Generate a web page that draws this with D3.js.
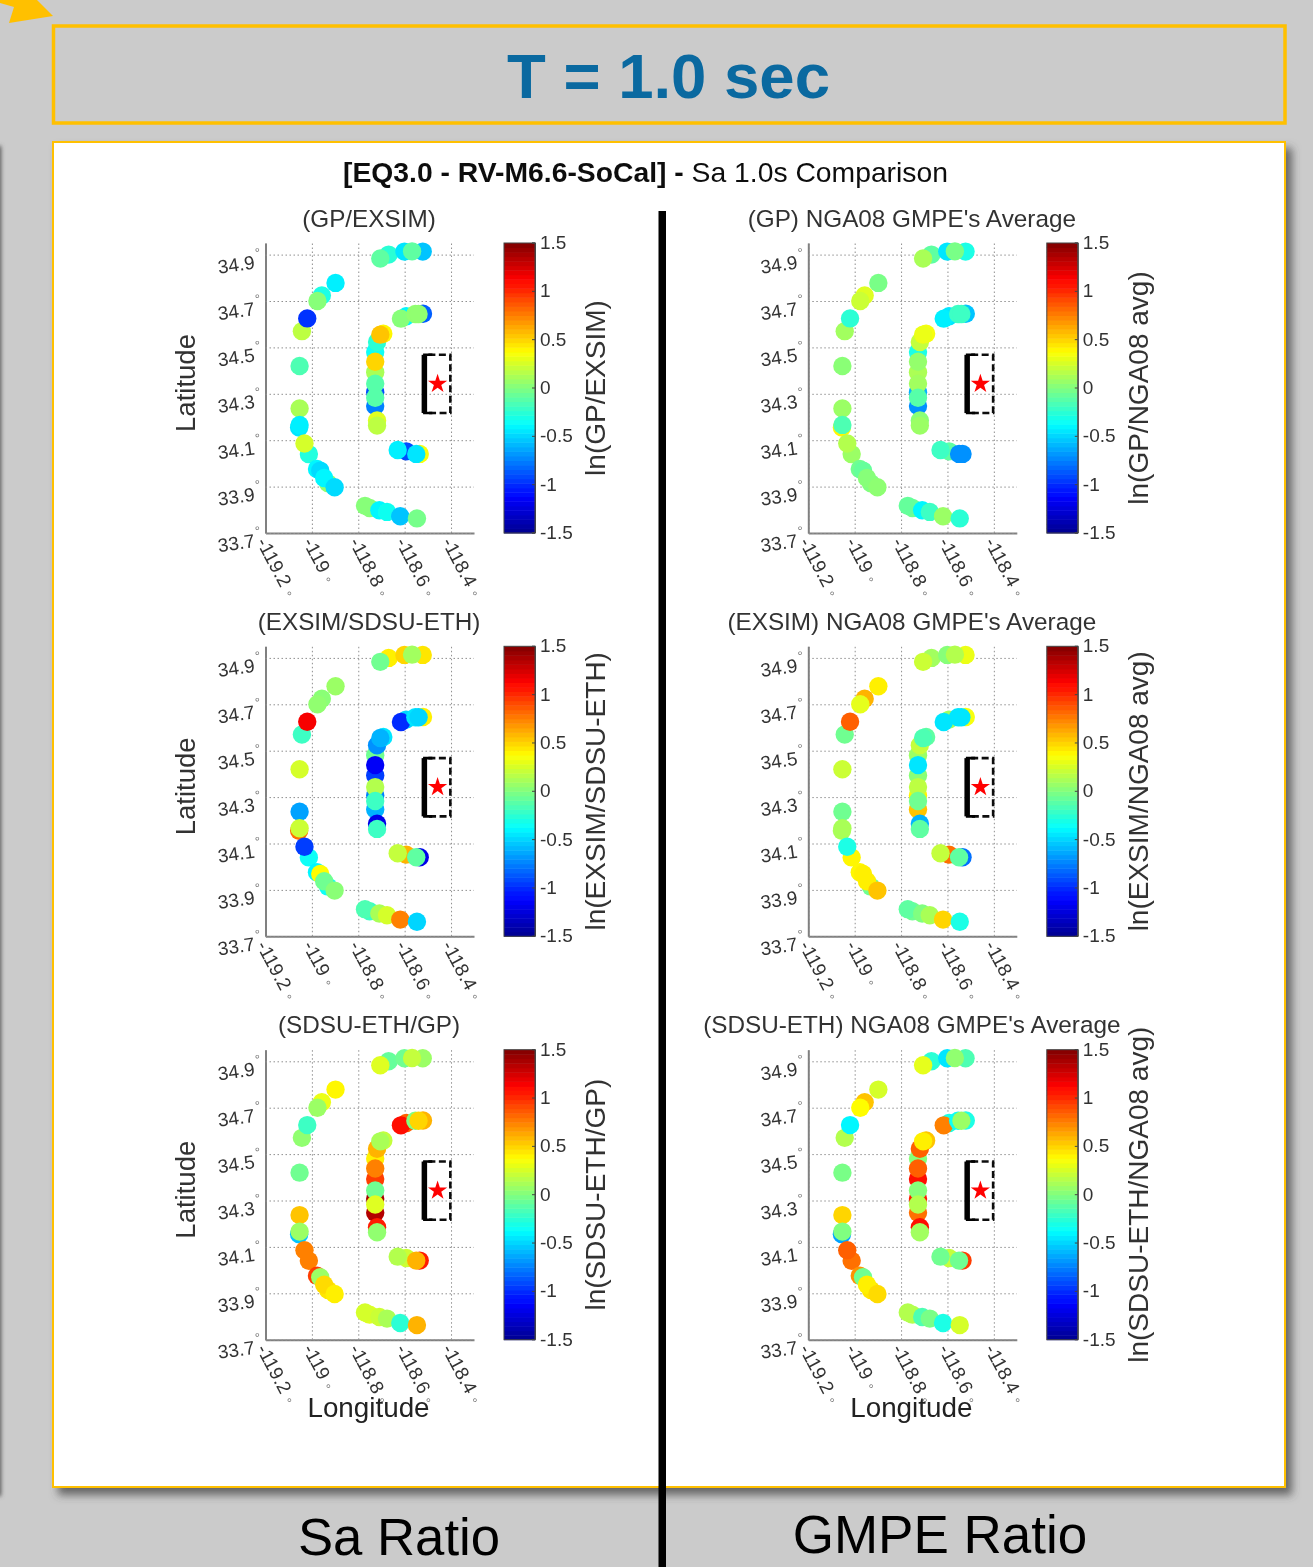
<!DOCTYPE html>
<html>
<head>
<meta charset="utf-8">
<script src="https://cdn.jsdelivr.net/npm/d3@7"></script>
<style>
  html, body { margin: 0; padding: 0; background: #cbcbcb; }
  svg { display: block; }
  text { font-family: "Liberation Sans", Arial, sans-serif; }
  .tick text { fill: #333; font-size: 19px; }
  .deg { fill: #777; font-size: 13px; }
  .grid .tick line { stroke: #8f8f8f; stroke-dasharray: 1.5 2.5; stroke-width: 1; }
  .grid .domain { stroke: #808080; stroke-width: 2; }
</style>
</head>
<body>
<script>
// station locations, in drawing order (later ones sit on top)
var stationLon = [-118.898,-118.957,-118.976,-119.043,-119.020,-119.053,-119.053,-119.055,-119.053,-119.013,-119.032,-118.978,-118.964,-118.930,-118.947,-118.902,
  -118.751,-118.771,-118.709,-118.676,-118.619,-118.547,
  -118.669,-118.705,-118.601,-118.522,-118.568,
  -118.593,-118.616,-118.521,-118.554,-118.540,
  -118.727,-118.727,-118.727,-118.727,-118.727,-118.727,-118.727,-118.719,-118.692,-118.705,-118.719,-118.719,
  -118.535,-118.593,-118.550,-118.630];
var stationLat = [34.778,34.724,34.700,34.570,34.625,34.420,34.237,34.155,34.166,34.040,34.086,33.976,33.969,33.914,33.937,33.897,
  33.808,33.817,33.798,33.791,33.772,33.763,
  34.900,34.883,34.913,34.913,34.914,
  34.634,34.624,34.645,34.644,34.644,
  34.247,34.307,34.393,34.343,34.283,34.480,34.438,34.523,34.559,34.555,34.185,34.163,
  34.041,34.052,34.041,34.058];

// ln ratio at each station, one list per panel
var gpExsim = [-.42,-.3,.02,.18,-.98,-.15,.12,-.45,-.42,-.28,.25,-.4,-.48,.05,-.4,-.48,
  .02,.02,-.4,-.33,-.55,-.03,
  -.25,-.1,-.45,-.55,-.1,
  -.4,.02,-.85,.05,.05,
  -.75,-.9,.12,-.12,-.12,-.35,.5,-.25,.4,.55,.28,.18,
  .35,-.9,-.45,-.42];
var exsimSdsu = [.08,.03,.05,-.2,1.15,.25,-.65,.8,.22,-.35,-.95,-.4,.38,-.35,-.05,.03,
  -.2,-.15,.12,.25,.75,-.5,
  .42,-.05,.5,.45,.1,
  -.5,-1.0,.42,-.45,-.5,
  -.6,-.75,-.95,.15,-.2,-.05,-1.15,-.7,-.45,-.6,-1.2,-.2,
  -1.2,.6,-.1,.2];
var sdsuGp = [.4,.32,.08,.05,-.2,-.05,.55,-.55,.08,.75,.75,.95,.08,.45,.48,.42,
  .28,.25,.22,.12,-.25,.6,
  -.08,.28,-.05,.08,.2,
  .85,1.1,.6,0,.5,
  1.35,1.4,.95,-.05,.28,.42,.75,.6,.2,.12,1.05,.05,
  1.05,.22,.6,.15];
var gpNga = [-.02,.28,.22,.1,-.25,.03,.08,.4,-.15,.08,.15,-.05,-.08,0,.02,.04,
  -.05,-.08,-.4,-.2,.08,-.25,
  -.1,.12,-.45,-.3,-.02,
  -.45,-.42,-.55,-.2,-.2,
  -.7,-.6,.13,.1,-.12,-.3,.06,.2,.35,.32,.03,.08,
  -.7,-.1,-.7,-.2];
var exsimNga = [.42,.6,.3,-.05,.85,.22,-.05,.12,.12,.4,-.3,.4,.42,-.05,.42,.55,
  -.05,-.1,0,.12,.5,-.3,
  .1,.22,.02,.32,.15,
  .1,-.45,.35,-.45,-.45,
  .55,.4,.03,.18,-.05,.08,-.45,.2,-.1,-.15,-.6,-.1,
  -.8,.8,-.1,.2];
var sdsuNga = [.25,.55,.38,.15,-.4,-.02,.5,-.65,0,.8,.85,.7,-.05,.45,.42,.48,
  .15,.15,-.15,-.02,-.3,.25,
  -.25,.3,-.45,-.15,.05,
  -.3,.75,-.3,-.35,.08,
  .8,1.05,1.1,.02,.15,.02,.85,.85,.55,.42,1.1,.1,
  .95,.2,-.05,-.05];

var lonTicks = [-119.2, -119, -118.8, -118.6, -118.4];
var latTicks = [33.7, 33.9, 34.1, 34.3, 34.5, 34.7, 34.9];
var barTicks = [-1.5, -1, -0.5, 0, 0.5, 1, 1.5];

// fault box and epicentre
var faultLon = [-118.515, -118.403];
var faultLat = [34.217, 34.468];
var epicentre = [-118.458, 34.343];

var panelTitles = ["(GP/EXSIM)", "(EXSIM/SDSU-ETH)", "(SDSU-ETH/GP)",
  "(GP) NGA08 GMPE's Average", "(EXSIM) NGA08 GMPE's Average", "(SDSU-ETH) NGA08 GMPE's Average"];
var barLabels = ["ln(GP/EXSIM)", "ln(EXSIM/SDSU-ETH)", "ln(SDSU-ETH/GP)",
  "ln(GP/NGA08 avg)", "ln(EXSIM/NGA08 avg)", "ln(SDSU-ETH/NGA08 avg)"];
var panelValues = [gpExsim, exsimSdsu, sdsuGp, gpNga, exsimNga, sdsuNga];

var W = 1313, H = 1567;
var colX = [265.5, 808.3], rowY = [243, 646.3, 1049.7];
var plotW = 208.5, plotH = 290;

var x = d3.scaleLinear().domain([-119.2, -118.301]).range([0, plotW]);
var y = d3.scaleLinear().domain([33.7, 34.95]).range([plotH, 0]);
var barY = d3.scaleLinear().domain([-1.5, 1.5]).range([plotH, 0]);

// matlab jet
var jet = d3.scaleLinear()
  .domain([-1.5, -1.125, -0.75, -0.375, 0, 0.375, 0.75, 1.125, 1.5])
  .range(["#00008f", "#0000ff", "#0080ff", "#00ffff", "#80ff80", "#ffff00", "#ff8000", "#ff0000", "#800000"])
  .clamp(true);

var svg = d3.select("body").append("svg").attr("width", W).attr("height", H);

var defs = svg.append("defs");
defs.append("filter").attr("id", "shadow").attr("x", "-5%").attr("y", "-5%").attr("width", "110%").attr("height", "110%")
  .append("feDropShadow").attr("dx", 6).attr("dy", 7).attr("stdDeviation", 4).attr("flood-color", "#444").attr("flood-opacity", 0.75);
defs.append("filter").attr("id", "soft").append("feGaussianBlur").attr("stdDeviation", 0.45);
defs.append("filter").attr("id", "blur3").attr("x", "-300%").attr("width", "700%").append("feGaussianBlur").attr("stdDeviation", 2);

svg.append("rect").attr("width", W).attr("height", H).attr("fill", "#cbcbcb");

// bits of the neighbouring slide content
svg.append("path").attr("d", "M0,0L37,0L53,16L9,23L14,7L0,3Z").attr("fill", "#ffc000");
svg.append("rect").attr("x", -6).attr("y", 146).attr("width", 7).attr("height", 1350).attr("fill", "#555").attr("filter", "url(#blur3)");

// heading box
svg.append("rect").attr("x", 53.5).attr("y", 26).attr("width", 1231.5).attr("height", 97)
  .attr("fill", "none").attr("stroke", "#ffc000").attr("stroke-width", 3.5);
svg.append("text").attr("x", 668.5).attr("y", 98).attr("text-anchor", "middle")
  .attr("font-size", 63.5).attr("font-weight", "bold").attr("fill", "#0a69a0").text("T = 1.0 sec");

// white sheet
svg.append("rect").attr("x", 53).attr("y", 142).attr("width", 1232).attr("height", 1345)
  .attr("fill", "#fff").attr("stroke", "#ffc000").attr("stroke-width", 2).attr("filter", "url(#shadow)");

var sheet = svg.append("g").attr("filter", "url(#soft)");

var head = sheet.append("text").attr("x", 645.5).attr("y", 182).attr("text-anchor", "middle").attr("font-size", 28.3).attr("fill", "#111");
head.append("tspan").attr("font-weight", "bold").text("[EQ3.0 - RV-M6.6-SoCal] - ");
head.append("tspan").text("Sa 1.0s Comparison");

panelValues.forEach(function(values, p) {
  var col = Math.floor(p / 3), row = p % 3;
  var g = sheet.append("g").attr("transform", "translate(" + colX[col] + "," + rowY[row] + ")");

  g.append("text").attr("x", 103.5).attr("y", -16.5).attr("text-anchor", "middle")
    .attr("font-size", 24.3).attr("fill", "#333").text(panelTitles[p]);

  // x axis with grid
  var xAxis = d3.axisBottom(x).tickValues(lonTicks).tickSize(-plotH).tickSizeOuter(0).tickFormat(String);
  var gx = g.append("g").attr("class", "grid").attr("transform", "translate(0," + plotH + ")").call(xAxis);
  gx.selectAll(".tick text")
    .attr("text-anchor", "start")
    .attr("transform", "translate(-10,9) rotate(62)")
    .attr("x", 0).attr("y", 0).attr("dy", 0);
  gx.selectAll(".tick text").append("tspan").attr("class", "deg").attr("dx", 6).attr("dy", 2).text("°");

  // y axis with grid
  var yAxis = d3.axisLeft(y).tickValues(latTicks).tickSize(-plotW).tickSizeOuter(0).tickFormat(d3.format(".1f"));
  var gy = g.append("g").attr("class", "grid").call(yAxis);
  gy.selectAll(".tick text")
    .attr("text-anchor", "end")
    .attr("transform", "translate(-3,12.5) rotate(-8)")
    .attr("x", 0).attr("y", 0).attr("dy", 0);
  gy.selectAll(".tick text").append("tspan").attr("class", "deg").attr("dx", 2).attr("dy", -11).text("°");

  // stations
  g.selectAll("circle.station").data(values).join("circle")
    .attr("class", "station")
    .attr("cx", function(d, i) { return x(stationLon[i]); })
    .attr("cy", function(d, i) { return y(stationLat[i]); })
    .attr("r", 9.2)
    .attr("fill", function(d) { return jet(d); });

  // fault box
  var fx0 = x(faultLon[0]), fx1 = x(faultLon[1]), fy0 = y(faultLat[0]), fy1 = y(faultLat[1]);
  g.append("path")
    .attr("d", "M" + (fx0 + 4) + "," + fy1 + "H" + fx1 + "V" + fy0 + "H" + (fx0 + 4))
    .attr("fill", "none").attr("stroke", "#111").attr("stroke-width", 2.6).attr("stroke-dasharray", "7 3.5");
  g.append("path")
    .attr("d", "M" + (fx0 + 8) + "," + fy1 + "H" + fx0 + "V" + fy0 + "H" + (fx0 + 8))
    .attr("fill", "none").attr("stroke", "#000").attr("stroke-width", 2.6);
  g.append("line").attr("x1", fx0).attr("x2", fx0).attr("y1", fy1).attr("y2", fy0)
    .attr("stroke", "#000").attr("stroke-width", 5.5);

  // epicentre
  g.append("path")
    .attr("transform", "translate(" + x(epicentre[0]) + "," + y(epicentre[1]) + ")")
    .attr("d", d3.symbol().type(d3.symbolStar).size(115))
    .attr("fill", "#ff0000");

  // colour bar
  var barX = 238.5, barW = 31;
  var bands = d3.range(64);
  var cb = g.append("g").attr("transform", "translate(" + barX + ",0)");
  cb.selectAll("rect").data(bands).join("rect")
    .attr("x", 0).attr("width", barW)
    .attr("y", function(d) { return barY(-1.5 + (d + 1) * 3 / 64); })
    .attr("height", plotH / 64 + 0.5)
    .attr("fill", function(d) { return jet(-1.5 + (d + 0.5) * 3 / 64); });
  cb.append("rect").attr("width", barW).attr("height", plotH).attr("fill", "none").attr("stroke", "#444").attr("stroke-width", 1);
  var barAxis = d3.axisRight(barY).tickValues(barTicks).tickSize(-3).tickPadding(5).tickFormat(String);
  var gb = cb.append("g").attr("transform", "translate(" + barW + ",-0.5)").call(barAxis);
  gb.select(".domain").attr("stroke", "#444");
  gb.selectAll(".tick line").attr("stroke", "#444");

  g.append("text")
    .attr("transform", "translate(339.5," + (plotH / 2) + ") rotate(-90)")
    .attr("text-anchor", "middle").attr("font-size", 28).attr("fill", "#333").text(barLabels[p]);

  if (col == 0) {
    g.append("text")
      .attr("transform", "translate(-70.5," + (plotH / 2 - 5) + ") rotate(-90)")
      .attr("text-anchor", "middle").attr("font-size", 27.5).attr("fill", "#333").text("Latitude");
  }
  if (row == 2) {
    g.append("text").attr("x", 103).attr("y", 367).attr("text-anchor", "middle")
      .attr("font-size", 27.8).attr("fill", "#222").text("Longitude");
  }
});

// divider and column captions
svg.append("rect").attr("x", 658.5).attr("y", 211).attr("width", 7.5).attr("height", H - 211).attr("fill", "#000");
svg.append("text").attr("x", 399).attr("y", 1555).attr("text-anchor", "middle").attr("font-size", 52.7).attr("fill", "#000").text("Sa Ratio");
svg.append("text").attr("x", 940).attr("y", 1553).attr("text-anchor", "middle").attr("font-size", 53).attr("fill", "#000").text("GMPE Ratio");
</script>
</body>
</html>
